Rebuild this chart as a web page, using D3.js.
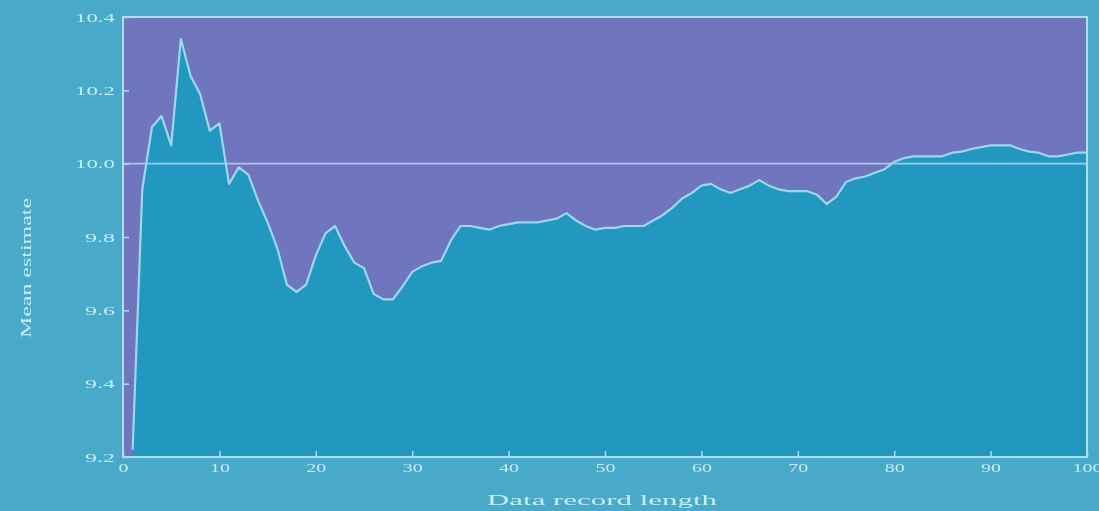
<!DOCTYPE html>
<html><head><meta charset="utf-8">
<script src="https://cdn.jsdelivr.net/npm/d3@7"></script>
<style>
html,body{margin:0;padding:0;background:#4aa9c9;}
svg{display:block;}
</style></head>
<body>
<svg id="chart" width="1099" height="511"></svg>
<script>
const recordLength = d3.range(1, 101);
const meanEstimate = [
 9.22, 9.93, 10.10, 10.13, 10.05, 10.34, 10.24, 10.19, 10.09, 10.11,
 9.945, 9.99, 9.97, 9.90, 9.84, 9.77, 9.67, 9.65, 9.67, 9.75,
 9.81, 9.83, 9.775, 9.73, 9.715, 9.645, 9.63, 9.63, 9.665, 9.705,
 9.72, 9.73, 9.735, 9.79, 9.83, 9.83, 9.825, 9.82, 9.83, 9.835,
 9.84, 9.84, 9.84, 9.845, 9.85, 9.865, 9.845, 9.83, 9.82, 9.825,
 9.825, 9.83, 9.83, 9.83, 9.845, 9.86, 9.88, 9.905, 9.92, 9.94,
 9.945, 9.93, 9.92, 9.93, 9.94, 9.955, 9.94, 9.93, 9.925, 9.925,
 9.925, 9.915, 9.89, 9.91, 9.95, 9.96, 9.965, 9.975, 9.985, 10.005,
 10.015, 10.02, 10.02, 10.02, 10.02, 10.03, 10.033, 10.04, 10.045, 10.05,
 10.05, 10.05, 10.04, 10.033, 10.03, 10.02, 10.02, 10.025, 10.03, 10.03
];
const xTicks = [0,10,20,30,40,50,60,70,80,90,100];
const yTicks = [9.2,9.4,9.6,9.8,10.0,10.2,10.4];
const yTickLabels = ["9.2","9.4","9.6","9.8","10.0","10.2","10.4"];
const trueValue = 10.0;
const xTitle = "Data record length";
const yTitle = "Mean estimate";

const data = recordLength.map((x,i)=>({x, y: meanEstimate[i]}));

const svg = d3.select("#chart");
const defs = svg.append("defs");
defs.append("filter").attr("id","soft").attr("x","-5%").attr("y","-5%").attr("width","110%").attr("height","110%")
  .append("feGaussianBlur").attr("stdDeviation",0.7);

const root = svg.append("g").attr("filter","url(#soft)");
root.append("rect").attr("width",1099).attr("height",511).attr("fill","#4aa9c9");

const m = {left:123, top:17, right:12, bottom:54};
const W = 1099 - m.left - m.right, H = 511 - m.top - m.bottom;
const x = d3.scaleLinear().domain([0,100]).range([0,W]);
const y = d3.scaleLinear().domain([9.2,10.4]).range([H,0]);
const g = root.append("g").attr("transform",`translate(${m.left},${m.top})`);

const axisCol = "#a8e2f2";
const textCol = "#c4eef9";
const serif = "'Liberation Serif', 'DejaVu Serif', serif";

g.append("rect").attr("width",W).attr("height",H).attr("fill","#6f76bd");

g.append("path").datum(data)
 .attr("fill","#2297c0")
 .attr("d", d3.area().x(d=>x(d.x)).y0(H).y1(d=>y(Math.max(9.2,d.y))));

g.append("line").attr("x1",0).attr("x2",W)
 .attr("y1",y(trueValue)).attr("y2",y(trueValue))
 .attr("stroke","#c8d4f4").attr("stroke-opacity",0.8).attr("stroke-width",1.6);

g.append("path").datum(data)
 .attr("fill","none").attr("stroke","#9ad9ef").attr("stroke-width",2.2)
 .attr("stroke-linejoin","round")
 .attr("d", d3.line().x(d=>x(d.x)).y(d=>y(Math.max(9.2,d.y))));

g.append("rect").attr("width",W).attr("height",H).attr("fill","none")
 .attr("stroke",axisCol).attr("stroke-width",2);

const fmtY = d => yTickLabels[yTicks.indexOf(d)];
const yAxis = g.append("g").call(d3.axisLeft(y).tickValues(yTicks).tickFormat(fmtY).tickSizeInner(-6).tickSizeOuter(0).tickPadding(8));
const xAxis = g.append("g").attr("transform",`translate(0,${H})`)
 .call(d3.axisBottom(x).tickValues(xTicks).tickSizeInner(-6).tickSizeOuter(0).tickPadding(6));
[xAxis,yAxis].forEach(a=>{
  a.select(".domain").remove();
  a.selectAll(".tick line").attr("stroke",axisCol).attr("stroke-width",1.5);
  a.selectAll(".tick text").attr("fill",textCol).attr("font-family",serif).attr("font-size",13)
   .attr("lengthAdjust","spacingAndGlyphs")
   .attr("textLength", function(){ return this.textContent.length*10; });
});

root.append("text").attr("x", 602).attr("y", 505).attr("text-anchor","middle")
 .attr("fill",textCol).attr("font-family",serif).attr("font-size",15)
 .attr("textLength",230).attr("lengthAdjust","spacingAndGlyphs").text(xTitle);
root.append("text").attr("transform",`translate(31,268) rotate(-90)`).attr("text-anchor","middle")
 .attr("fill",textCol).attr("font-family",serif).attr("font-size",15)
 .attr("textLength",140).attr("lengthAdjust","spacingAndGlyphs").text(yTitle);
</script>
</body></html>
